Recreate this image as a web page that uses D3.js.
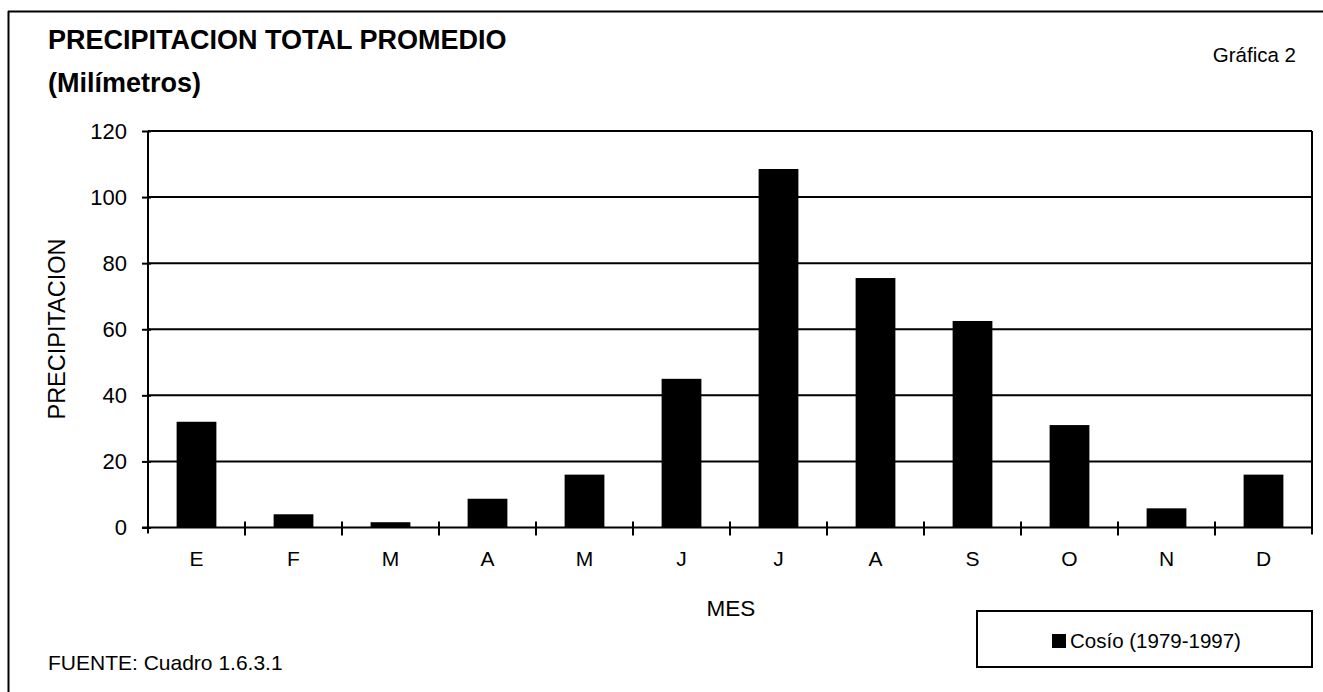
<!DOCTYPE html>
<html>
<head>
<meta charset="utf-8">
<script src="https://cdn.jsdelivr.net/npm/d3@7"></script>
<style>
  html, body { margin: 0; padding: 0; background: #fff; }
  svg { display: block; font-family: "Liberation Sans", Arial, sans-serif; }
</style>
</head>
<body>
<svg id="chart" width="1323" height="692"></svg>
<script>
// ---- data ----
const months = ["E", "F", "M", "A", "M", "J", "J", "A", "S", "O", "N", "D"];
const precipitation = [32, 4, 1.6, 8.7, 16, 45, 108.5, 75.5, 62.5, 31, 5.8, 16];
const yTicks = [0, 20, 40, 60, 80, 100, 120];
const seriesName = "Cosío (1979-1997)";
const title1 = "PRECIPITACION TOTAL PROMEDIO";
const title2 = "(Milímetros)";
const chartNumber = "Gráfica 2";
const source = "FUENTE: Cuadro 1.6.3.1";
const xTitle = "MES";
const yTitle = "PRECIPITACION";

// ---- layout ----
const W = 1323, H = 692;
const plot = { left: 148, right: 1312, top: 131, bottom: 527.5 };
const svg = d3.select("#chart");

const idx = months.map((d, i) => i);
const x = d3.scaleBand().domain(idx).range([plot.left, plot.right])
  .paddingInner(0.59).paddingOuter(0.295);
const xb = d3.scaleBand().domain(idx).range([plot.left, plot.right]).padding(0);
const y = d3.scaleLinear().domain([0, 120]).range([plot.bottom, plot.top]);

// outer frame (top and left edges visible)
svg.append("line").attr("x1", 8).attr("x2", W).attr("y1", 11.5).attr("y2", 11.5)
  .attr("stroke", "#000").attr("stroke-width", 2);
svg.append("line").attr("x1", 8.5).attr("x2", 8.5).attr("y1", 11).attr("y2", H)
  .attr("stroke", "#000").attr("stroke-width", 2);

// titles
svg.append("text").attr("x", 48).attr("y", 49).attr("font-size", 27)
  .attr("font-weight", "bold").text(title1);
svg.append("text").attr("x", 48).attr("y", 92).attr("font-size", 27)
  .attr("font-weight", "bold").text(title2);
svg.append("text").attr("x", 1296).attr("y", 62).attr("font-size", 20.5)
  .attr("text-anchor", "end").text(chartNumber);

// gridlines
svg.append("g").selectAll("line").data(yTicks.filter(d => d > 0)).join("line")
  .attr("x1", plot.left).attr("x2", plot.right)
  .attr("y1", d => y(d)).attr("y2", d => y(d))
  .attr("stroke", "#000").attr("stroke-width", 2);

// right border
svg.append("line").attr("x1", plot.right).attr("x2", plot.right)
  .attr("y1", plot.top).attr("y2", plot.bottom + 7)
  .attr("stroke", "#000").attr("stroke-width", 2);

// bars
svg.append("g").selectAll("rect").data(precipitation).join("rect")
  .attr("x", (d, i) => x(i)).attr("width", x.bandwidth())
  .attr("y", d => y(d)).attr("height", d => y(0) - y(d))
  .attr("fill", "#000");

// y axis
const yAxis = d3.axisLeft(y).tickValues(yTicks).tickSize(6).tickPadding(15);
const gy = svg.append("g").attr("transform", `translate(${plot.left},0)`).call(yAxis);
gy.select(".domain").attr("stroke", "#000").attr("stroke-width", 2)
  .attr("d", `M0,${plot.top}V${plot.bottom + 6}`);
gy.selectAll(".tick line").attr("stroke", "#000").attr("stroke-width", 2).attr("x2", -6).attr("x1", 3);
gy.selectAll(".tick text").attr("font-size", 22).attr("fill", "#000")
  .attr("font-family", "Liberation Sans, Arial, sans-serif");

// x axis (labels)
const xAxis = d3.axisBottom(x).tickFormat(i => months[i]).tickSize(0).tickPadding(24);
const gx = svg.append("g").attr("transform", `translate(0,${plot.bottom})`).call(xAxis);
gx.select(".domain").attr("stroke", "#000").attr("stroke-width", 2)
  .attr("d", `M${plot.left - 6},0H${plot.right}`);
gx.selectAll(".tick text").attr("font-size", 21).attr("fill", "#000")
  .attr("font-family", "Liberation Sans, Arial, sans-serif");

// x boundary ticks
svg.append("g").selectAll("line").data(idx.slice(1)).join("line")
  .attr("x1", d => xb(d)).attr("x2", d => xb(d))
  .attr("y1", plot.bottom - 6).attr("y2", plot.bottom + 8)
  .attr("stroke", "#000").attr("stroke-width", 2);

// axis titles
svg.append("text").attr("x", 731).attr("y", 616).attr("font-size", 22.5)
  .attr("text-anchor", "middle").text(xTitle);
svg.append("text").attr("transform", "translate(65,329) rotate(-90)")
  .attr("font-size", 23.5).attr("text-anchor", "middle").text(yTitle);

// source
svg.append("text").attr("x", 48).attr("y", 670).attr("font-size", 21).text(source);

// legend
const lg = svg.append("g");
lg.append("rect").attr("x", 977).attr("y", 611).attr("width", 335).attr("height", 56)
  .attr("fill", "#fff").attr("stroke", "#000").attr("stroke-width", 2);
lg.append("rect").attr("x", 1052).attr("y", 634).attr("width", 14).attr("height", 14).attr("fill", "#000");
lg.append("text").attr("x", 1070).attr("y", 648).attr("font-size", 20.5).text(seriesName);
</script>
</body>
</html>
